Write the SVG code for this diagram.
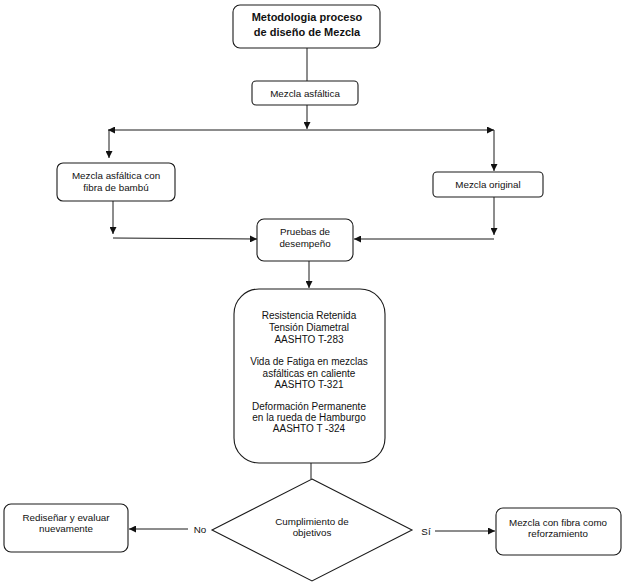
<svg xmlns="http://www.w3.org/2000/svg" width="627" height="584" viewBox="0 0 627 584">
<style>
.box{fill:#fff;stroke:#1a1a1a;stroke-width:1.1}
.t{font-family:"Liberation Sans",Arial,sans-serif;font-size:9.8px;fill:#111;text-anchor:middle}
.tb{font-family:"Liberation Sans",Arial,sans-serif;font-size:11px;font-weight:bold;fill:#111;text-anchor:middle}
.tm{font-family:"Liberation Sans",Arial,sans-serif;font-size:10px;fill:#111;text-anchor:middle}
.c{fill:none;stroke:#1a1a1a;stroke-width:1}
</style>
<defs>
<marker id="ah" viewBox="0 0 10 10" refX="10" refY="5" markerWidth="7" markerHeight="7" markerUnits="userSpaceOnUse" orient="auto">
<path d="M0,0 L10,5 L0,10 z" fill="#111"/>
</marker>
</defs>
<rect width="627" height="584" fill="#fff"/>
<g id="connectors">
<line class="c" x1="307" y1="48" x2="307" y2="81"/>
<line class="c" x1="307" y1="105" x2="307" y2="129" marker-end="url(#ah)"/>
<line class="c" x1="307" y1="130" x2="108" y2="130" marker-end="url(#ah)"/>
<line class="c" x1="307" y1="130" x2="494" y2="130" marker-end="url(#ah)"/>
<line class="c" x1="109" y1="130" x2="109" y2="158" marker-end="url(#ah)"/>
<line class="c" x1="494" y1="130" x2="494" y2="171" marker-end="url(#ah)"/>
<line class="c" x1="113" y1="201" x2="113" y2="234" marker-end="url(#ah)"/>
<polyline class="c" points="113,238 257,239" marker-end="url(#ah)"/>
<line class="c" x1="494" y1="197" x2="494" y2="235" marker-end="url(#ah)"/>
<polyline class="c" points="494,239 354,239" marker-end="url(#ah)"/>
<line class="c" x1="309" y1="261" x2="309" y2="288" marker-end="url(#ah)"/>
<line class="c" x1="311" y1="463" x2="311" y2="479"/>
<line class="c" x1="188" y1="529" x2="129" y2="529" marker-end="url(#ah)"/>
<line class="c" x1="435" y1="531" x2="495" y2="531" marker-end="url(#ah)"/>
<text class="t" x="200" y="532.5">No</text>
<text class="t" x="426" y="534.5">Sí</text>
</g>
<g id="n-title">
<rect class="box" x="233" y="5" width="147" height="43" rx="7"/>
<text class="tb" x="307" y="21">Metodologia proceso</text>
<text class="tb" x="307" y="36">de diseño de Mezcla</text>
</g>
<g id="n-mezcla">
<rect class="box" x="252" y="81" width="106" height="24" rx="4"/>
<text class="t" x="305" y="96.5">Mezcla asfáltica</text>
</g>
<g id="n-bambu">
<rect class="box" x="57" y="163" width="118" height="38" rx="6"/>
<text class="t" x="116" y="179">Mezcla asfáltica con</text>
<text class="t" x="116" y="191">fibra de bambú</text>
</g>
<g id="n-original">
<rect class="box" x="433" y="172" width="110" height="25" rx="4"/>
<text class="t" x="488" y="188">Mezcla original</text>
</g>
<g id="n-pruebas">
<rect class="box" x="257" y="219" width="96" height="42" rx="7"/>
<text class="t" x="305" y="235">Pruebas de</text>
<text class="t" x="305" y="247">desempeño</text>
</g>
<g id="n-ensayos">
<rect class="box" x="234" y="289" width="151" height="174" rx="25"/>
<text class="tm" x="309" y="319">Resistencia Retenida</text>
<text class="tm" x="309" y="331">Tensión Diametral</text>
<text class="tm" x="309" y="342.5">AASHTO T-283</text>
<text class="tm" x="309" y="365">Vida de Fatiga en mezclas</text>
<text class="tm" x="309" y="376.5">asfálticas en caliente</text>
<text class="tm" x="309" y="388">AASHTO T-321</text>
<text class="tm" x="309" y="410">Deformación Permanente</text>
<text class="tm" x="309" y="421">en la rueda de Hamburgo</text>
<text class="tm" x="309" y="432">AASHTO T -324</text>
</g>
<g id="n-decision">
<polygon class="box" points="312,479 412,530 312,581 212,530"/>
<text class="t" x="312" y="524.5">Cumplimiento de</text>
<text class="t" x="312" y="536">objetivos</text>
</g>
<g id="n-redisenar">
<rect class="box" x="4" y="504" width="124" height="48" rx="7"/>
<text class="t" x="66" y="520.5">Rediseñar y evaluar</text>
<text class="t" x="66" y="532">nuevamente</text>
</g>
<g id="n-final">
<rect class="box" x="496" y="508" width="125" height="47" rx="7"/>
<text class="t" x="558" y="525.5">Mezcla con fibra como</text>
<text class="t" x="558" y="537">reforzamiento</text>
</g>
</svg>
